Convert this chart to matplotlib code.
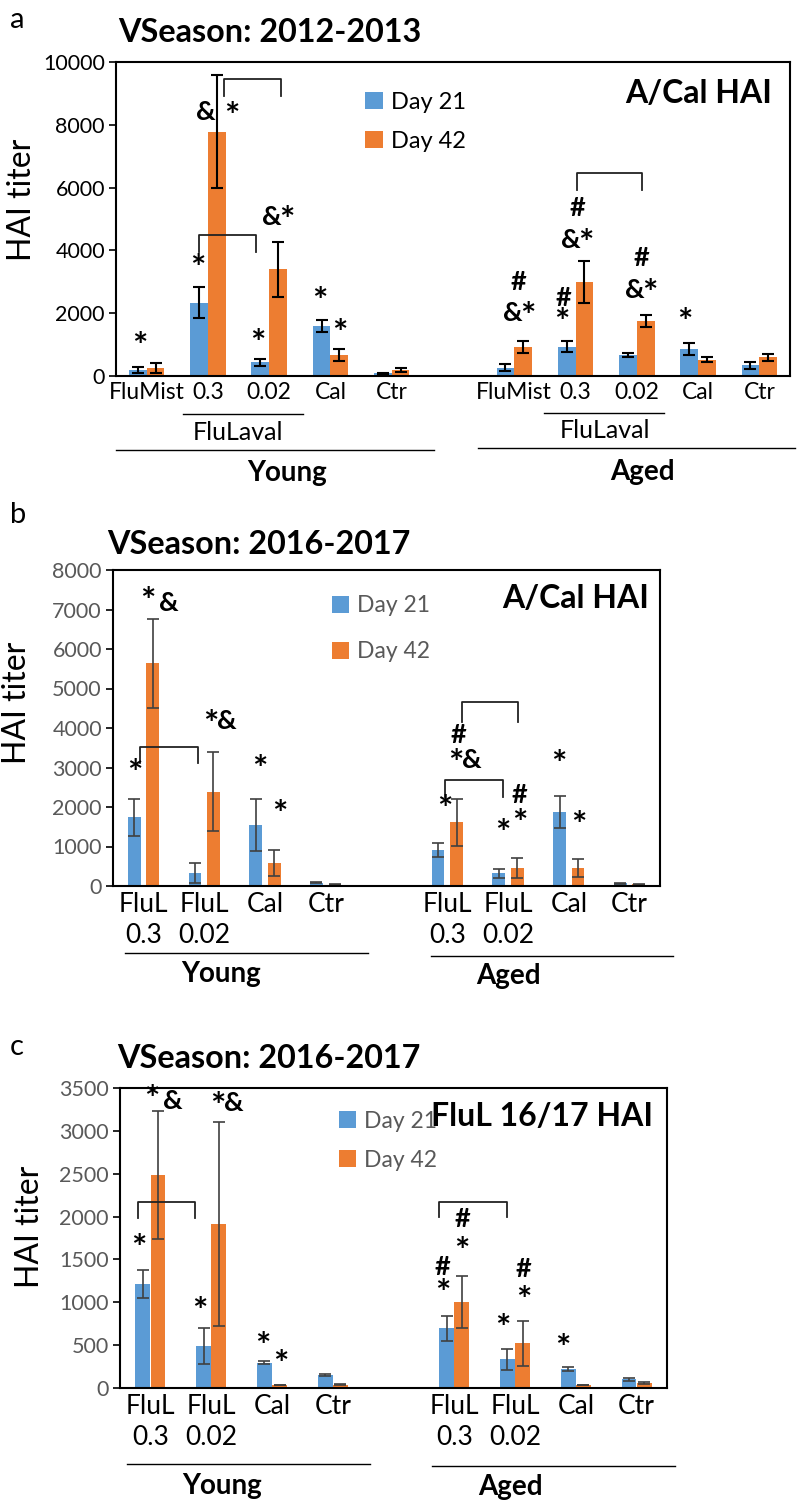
import numpy as np
import matplotlib.pyplot as plt

plt.rcParams["font.family"] = ["Lato", "DejaVu Sans"]

W, H = 800, 1507
BLUE = "#5B9BD5"
ORANGE = "#ED7D31"
GRAY = "#595959"

# ---- panel a: VSeason 2012-2013, A/Cal HAI ----
a_labels = ["FluMist", "0.3", "0.02", "Cal", "Ctr", "",
            "FluMist", "0.3", "0.02", "Cal", "Ctr"]
a_day21 = [180, 2330, 430, 1590, 80, np.nan, 270, 930, 670, 850, 340]
a_day21_err = [100, 490, 100, 190, 20, np.nan, 110, 180, 70, 190, 110]
a_day42 = [260, 7780, 3400, 670, 190, np.nan, 930, 2980, 1750, 510, 590]
a_day42_err = [150, 1800, 870, 180, 50, np.nan, 200, 670, 200, 80, 100]
a_marks = [(-0.11, 1050, "*"), (0.83, 3535, "*"), (0.96, 8400, "&"),
           (1.39, 8380, "*"), (1.81, 1150, "*"), (2.17, 5060, "&*"),
           (2.83, 2480, "*"), (3.16, 1465, "*"),
           (6.07, 2990, "#"), (6.10, 2006, "&*"),
           (6.80, 2480, "#"), (6.77, 1790, "*"),
           (7.03, 5350, "#"), (7.04, 4330, "&*"),
           (8.07, 3760, "#"), (8.09, 2740, "&*"), (8.78, 1815, "*")]
a_brackets = [(1.26, 2.20, 9460, 8920), (0.85, 1.79, 4490, 3950),
              (7.03, 8.09, 6465, 5920)]

# ---- panel b: VSeason 2016-2017, A/Cal HAI ----
b_labels = ["FluL\n0.3", "FluL\n0.02", "Cal", "Ctr", "",
            "FluL\n0.3", "FluL\n0.02", "Cal", "Ctr"]
b_day21 = [1740, 320, 1545, 80, np.nan, 910, 320, 1880, 70]
b_day21_err = [470, 250, 650, 10, np.nan, 170, 120, 410, 10]
b_day42 = [5640, 2390, 575, 40, np.nan, 1610, 450, 450, 40]
b_day42_err = [1130, 1010, 330, 10, np.nan, 600, 260, 230, 10]
b_marks = [(-0.14, 2940, "*"), (0.08, 7290, "*"), (0.42, 7170, "&"),
           (1.24, 4180, "*&"), (1.92, 3040, "*"), (2.25, 1900, "*"),
           (4.96, 2025, "*"), (5.19, 3820, "#"), (5.27, 3180, "*&"),
           (5.91, 1420, "*"), (6.19, 2300, "#"), (6.19, 1660, "*"),
           (6.84, 3165, "*"), (7.16, 1620, "*")]
b_brackets = [(-0.06, 0.90, 3520, 3110), (5.24, 6.16, 4660, 4150),
              (4.96, 5.91, 2685, 2250)]

# ---- panel c: VSeason 2016-2017, FluL 16/17 HAI ----
c_labels = b_labels
c_day21 = [1215, 490, 295, 150, np.nan, 695, 335, 220, 100]
c_day21_err = [165, 210, 20, 10, np.nan, 145, 120, 25, 20]
c_day42 = [2485, 1910, 35, 40, np.nan, 1005, 520, 35, 62]
c_day42_err = [750, 1190, 5, 5, np.nan, 300, 260, 5, 10]
c_marks = [(-0.19, 1670, "*"), (0.03, 3400, "*"), (0.37, 3350, "&"),
           (0.82, 935, "*"), (1.24, 3325, "*&"), (1.85, 525, "*"),
           (2.15, 315, "*"),
           (4.81, 1410, "#"), (4.81, 1135, "*"), (5.13, 1970, "#"),
           (5.13, 1625, "*"), (5.80, 735, "*"), (6.14, 1390, "#"),
           (6.14, 1063, "*"), (6.79, 502, "*")]
c_brackets = [(-0.20, 0.73, 2170, 1985), (4.75, 5.87, 2170, 1995)]


def fx(px):
    return px / W


def fy(py):
    return 1 - py / H


def add_ax(fig, left, top, right, bottom):
    return fig.add_axes([fx(left), fy(bottom), (right - left) / W, (bottom - top) / H])


def hline(fig, x0, x1, y):
    fig.add_artist(plt.Line2D([fx(x0), fx(x1)], [fy(y), fy(y)], color="black", lw=1))


def draw_panel(ax, labels, d21, e21, d42, e42, width, offset, ymax, ystep,
               tick_color, err_color, err_lw, legend_xy, legend_size, legend_gap,
               xlabel_size):
    x = np.arange(len(labels))
    ekw = dict(ecolor=err_color, elinewidth=err_lw, capsize=4.3, capthick=err_lw)
    ax.bar(x - offset, d21, width, yerr=e21, color=BLUE, label="Day 21",
           error_kw=ekw)
    ax.bar(x + offset, d42, width, yerr=e42, color=ORANGE, label="Day 42",
           error_kw=ekw)
    ax.set_xlim(-0.5, len(labels) - 0.5)
    ax.set_ylim(0, ymax)
    ax.set_yticks(np.arange(0, ymax + 1, ystep))
    ax.set_xticks(x)
    ax.set_xticklabels(labels, fontsize=xlabel_size, linespacing=1.3)
    ax.tick_params(axis="x", length=0, pad=4)
    ax.tick_params(axis="y", length=5, width=1.2, labelsize=15.5,
                   labelcolor=tick_color, pad=3)
    for s in ax.spines.values():
        s.set_linewidth(1.5)
        s.set_color("black")
    ax.legend(loc="upper left", bbox_to_anchor=legend_xy, frameon=False,
              fontsize=legend_size, handlelength=0.75, handleheight=0.75,
              handletextpad=0.35, labelspacing=legend_gap, labelcolor=tick_color,
              borderaxespad=0, borderpad=0)


def draw_marks(ax, marks, brackets):
    # each symbol drawn on its own so the asterisk can be made larger
    for xm, ym, txt in marks:
        n = len(txt)
        for i, ch in enumerate(txt):
            dx = (i - (n - 1) / 2) * 11
            size = 26 if ch == "*" else 19.5
            dy = -3 if ch == "*" else 0
            ax.annotate(ch, (xm, ym), xytext=(dx, dy), textcoords="offset points",
                        ha="center", va="center", fontsize=size,
                        fontweight="bold")
    for x0, x1, ytop, yleg in brackets:
        ax.plot([x0, x0, x1, x1], [yleg, ytop, ytop, yleg], color="#222222",
                lw=1.3, clip_on=False)


fig = plt.figure(figsize=(W / 100, H / 100), dpi=100)

# panel a
ax_a = add_ax(fig, 116, 62, 790, 376)
draw_panel(ax_a, a_labels, a_day21, a_day21_err, a_day42, a_day42_err,
           0.29, 0.145, 10000, 2000, "black", "black", 1.5,
           (0.37, 0.905), 17, 0.75, 16.5)
draw_marks(ax_a, a_marks, a_brackets)
fig.text(fx(22), fy(200), "HAI titer", fontsize=23, rotation=90,
         ha="center", va="center")
ax_a.text(0.973, 0.9, "A/Cal HAI", transform=ax_a.transAxes, ha="right",
          va="center", fontsize=23, fontweight="bold")
fig.text(fx(10), fy(20), "a", fontsize=21, va="center")
fig.text(fx(118), fy(33), "VSeason: 2012-2013", fontsize=23.3,
         fontweight="bold", va="center")
hline(fig, 183, 303, 414)
hline(fig, 544, 664, 413)
fig.text(fx(238), fy(432), "FluLaval", fontsize=18, ha="center", va="center")
fig.text(fx(605), fy(430), "FluLaval", fontsize=18, ha="center", va="center")
hline(fig, 116, 434, 450)
hline(fig, 478, 795, 448)
fig.text(fx(287), fy(473), "Young", fontsize=20, fontweight="bold",
         ha="center", va="center")
fig.text(fx(642), fy(472), "Aged", fontsize=20, fontweight="bold",
         ha="center", va="center")

# panel b
ax_b = add_ax(fig, 113, 570, 660, 886)
draw_panel(ax_b, b_labels, b_day21, b_day21_err, b_day42, b_day42_err,
           0.21, 0.152, 8000, 1000, GRAY, "#404040", 1.2,
           (0.40, 0.92), 16.5, 1.1, 19)
draw_marks(ax_b, b_marks, b_brackets)
fig.text(fx(17), fy(703), "HAI titer", fontsize=23, rotation=90,
         ha="center", va="center")
ax_b.text(0.98, 0.91, "A/Cal HAI", transform=ax_b.transAxes, ha="right",
          va="center", fontsize=23, fontweight="bold")
fig.text(fx(10), fy(515), "b", fontsize=21, va="center")
fig.text(fx(107), fy(545), "VSeason: 2016-2017", fontsize=23.3,
         fontweight="bold", va="center")
hline(fig, 125, 368, 953)
hline(fig, 431, 673, 956)
fig.text(fx(221), fy(974), "Young", fontsize=20, fontweight="bold",
         ha="center", va="center")
fig.text(fx(508), fy(976), "Aged", fontsize=20, fontweight="bold",
         ha="center", va="center")

# panel c
ax_c = add_ax(fig, 120, 1088, 667, 1388)
draw_panel(ax_c, c_labels, c_day21, c_day21_err, c_day42, c_day42_err,
           0.245, 0.125, 3500, 500, GRAY, "#404040", 1.2,
           (0.40, 0.925), 16.5, 0.8, 19)
draw_marks(ax_c, c_marks, c_brackets)
fig.text(fx(30), fy(1227), "HAI titer", fontsize=23, rotation=90,
         ha="center", va="center")
ax_c.text(0.975, 0.905, "FluL 16/17 HAI", transform=ax_c.transAxes,
          ha="right", va="center", fontsize=23, fontweight="bold")
fig.text(fx(10), fy(1047), "c", fontsize=21, va="center")
fig.text(fx(117), fy(1059), "VSeason: 2016-2017", fontsize=23.3,
         fontweight="bold", va="center")
hline(fig, 127, 370, 1464)
hline(fig, 432, 675, 1466)
fig.text(fx(222), fy(1486), "Young", fontsize=20, fontweight="bold",
         ha="center", va="center")
fig.text(fx(510), fy(1487), "Aged", fontsize=20, fontweight="bold",
         ha="center", va="center")

fig.savefig("out.png", dpi=100)
